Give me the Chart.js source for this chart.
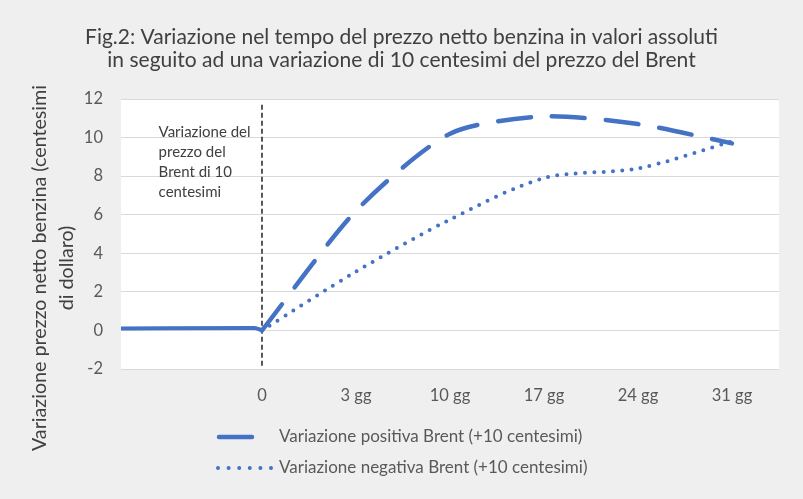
<!DOCTYPE html>
<html>
<head>
<meta charset="utf-8">
<script src="https://cdn.jsdelivr.net/npm/chart.js@4.4.0/dist/chart.umd.min.js"></script>
<style>
  html, body { margin: 0; padding: 0; background: #efefef; }
  #wrap { width: 803px; height: 499px; }
</style>
</head>
<body>
<div id="wrap"><canvas id="myChart"></canvas></div>
<script>
// etichette dell'asse x (posizioni 0..5)
const tickLabels = ['0', '3 gg', '10 gg', '17 gg', '24 gg', '31 gg'];

// tratto prima della variazione
const baseX = [-1.5, -0.08, 0];
const baseY = [0.1, 0.13, 0];

// serie dopo la variazione
const seriesX = [0, 1, 2, 3, 4, 5];
const positiva = [0, 6.2, 10.2, 11.1, 10.7, 9.7];
const negativa = [0, 3.05, 5.75, 7.9, 8.4, 9.8];

// linea verticale tratteggiata al giorno 0
const markerX = [0, 0];
const markerY = [11.7, -1.85];

const titleLines = [
    'Fig.2: Variazione nel tempo del prezzo netto benzina in valori assoluti',
    'in seguito ad una variazione di 10 centesimi del prezzo del Brent'
];
const noteLines = ['Variazione del', 'prezzo del', 'Brent di 10', 'centesimi'];
const yTitleLines = ['Variazione prezzo netto benzina (centesimi', 'di dollaro)'];

const FONT = 'Lato, "Open Sans", sans-serif';
const BLUE = '#4472C4';

function pts(xs, ys) {
    return xs.map((x, i) => ({ x: x, y: ys[i] }));
}

// sfondo bianco, nota, titolo asse y e legenda
const extras = {
    id: 'extras',
    beforeDatasetsDraw(chart) {
        const { ctx, chartArea } = chart;
        ctx.save();
        ctx.globalCompositeOperation = 'destination-over';
        ctx.fillStyle = '#ffffff';
        ctx.fillRect(chartArea.left, chartArea.top, chartArea.right - chartArea.left, chartArea.bottom - chartArea.top);
        ctx.restore();
    },
    afterDraw(chart) {
        const { ctx, scales } = chart;
        ctx.save();
        ctx.fillStyle = '#404040';
        ctx.font = '15px ' + FONT;
        ctx.textBaseline = 'middle';
        const nx = scales.x.getPixelForValue(-1.1);
        noteLines.forEach((t, i) => ctx.fillText(t, nx, 132 + i * 20));

        // legenda
        const rows = [
            { ds: chart.data.datasets[0], y: 437, x1: 219, x2: 255, dash: null },
            { ds: chart.data.datasets[1], y: 468, x1: 218, x2: 272, dash: [0, 10.6] }
        ];
        ctx.font = '17px ' + FONT;
        ctx.fillStyle = '#595959';
        rows.forEach(r => {
            ctx.save();
            ctx.strokeStyle = r.ds.borderColor;
            ctx.lineWidth = r.ds.borderWidth;
            ctx.lineCap = 'round';
            ctx.setLineDash(r.dash || r.ds.borderDash);
            ctx.beginPath();
            ctx.moveTo(r.x1, r.y);
            ctx.lineTo(r.x2, r.y);
            ctx.stroke();
            ctx.restore();
            ctx.fillText(r.ds.label, 279, r.y);
        });

        ctx.fillStyle = '#404040';
        ctx.font = '19.7px ' + FONT;
        ctx.textAlign = 'center';
        ctx.translate(0, 268);
        ctx.rotate(-Math.PI / 2);
        ctx.fillText(yTitleLines[0], 0, 40);
        ctx.fillText(yTitleLines[1], 0, 67);
        ctx.restore();
    }
};

new Chart(document.getElementById('myChart'), {
    type: 'line',
    data: {
        datasets: [
            {
                label: 'Variazione positiva Brent (+10 centesimi)',
                data: pts(seriesX, positiva),
                borderColor: BLUE,
                borderWidth: 4.5,
                borderDash: [33, 21],
                borderCapStyle: 'round',
                tension: 0.25,
                pointRadius: 0
            },
            {
                label: 'Variazione negativa Brent (+10 centesimi)',
                data: pts(seriesX, negativa),
                borderColor: BLUE,
                borderWidth: 4,
                borderDash: [0, 9.3],
                borderCapStyle: 'round',
                tension: 0.3,
                pointRadius: 0
            },
            {
                label: '',
                data: pts(baseX, baseY),
                borderColor: BLUE,
                borderWidth: 4,
                cubicInterpolationMode: 'monotone',
                pointRadius: 0
            },
            {
                label: '',
                data: pts(markerX, markerY),
                borderColor: '#000000',
                borderWidth: 1.3,
                borderDash: [5, 3],
                tension: 0,
                pointRadius: 0
            }
        ]
    },
    options: {
        responsive: true,
        maintainAspectRatio: false,
        animation: false,
        layout: { padding: { left: 0, right: 0, top: 0, bottom: 90 } },
        scales: {
            x: {
                type: 'linear',
                min: -1.5,
                max: 5.5,
                grid: { display: false },
                border: { display: false },
                afterFit(scale) { scale.height = 40; },
                afterBuildTicks(scale) {
                    scale.ticks = tickLabels.map((t, i) => ({ value: i }));
                },
                ticks: {
                    autoSkip: false,
                    maxRotation: 0,
                    padding: 9,
                    color: '#595959',
                    font: { family: FONT, size: 16.5 },
                    callback: (v, i) => tickLabels[i]
                }
            },
            y: {
                min: -2,
                max: 12,
                grid: { color: '#d9d9d9', drawTicks: false },
                border: { display: false },
                afterFit(scale) { scale.width = 121; },
                ticks: {
                    stepSize: 2,
                    padding: 18,
                    color: '#595959',
                    font: { family: FONT, size: 16.5 }
                }
            },
            // asse vuoto a destra: lascia il margine senza spostare il titolo
            yRight: {
                position: 'right',
                min: -2,
                max: 12,
                grid: { display: false },
                border: { display: false },
                ticks: { display: false },
                afterFit(scale) { scale.width = 24; }
            }
        },
        plugins: {
            title: {
                display: true,
                text: titleLines,
                color: '#404040',
                font: { family: FONT, size: 21, weight: 'normal', lineHeight: 1.1 },
                padding: { top: 25.5, bottom: 27.3 }
            },
            legend: { display: false },
            tooltip: { enabled: false }
        }
    },
    plugins: [extras]
});
</script>
</body>
</html>
